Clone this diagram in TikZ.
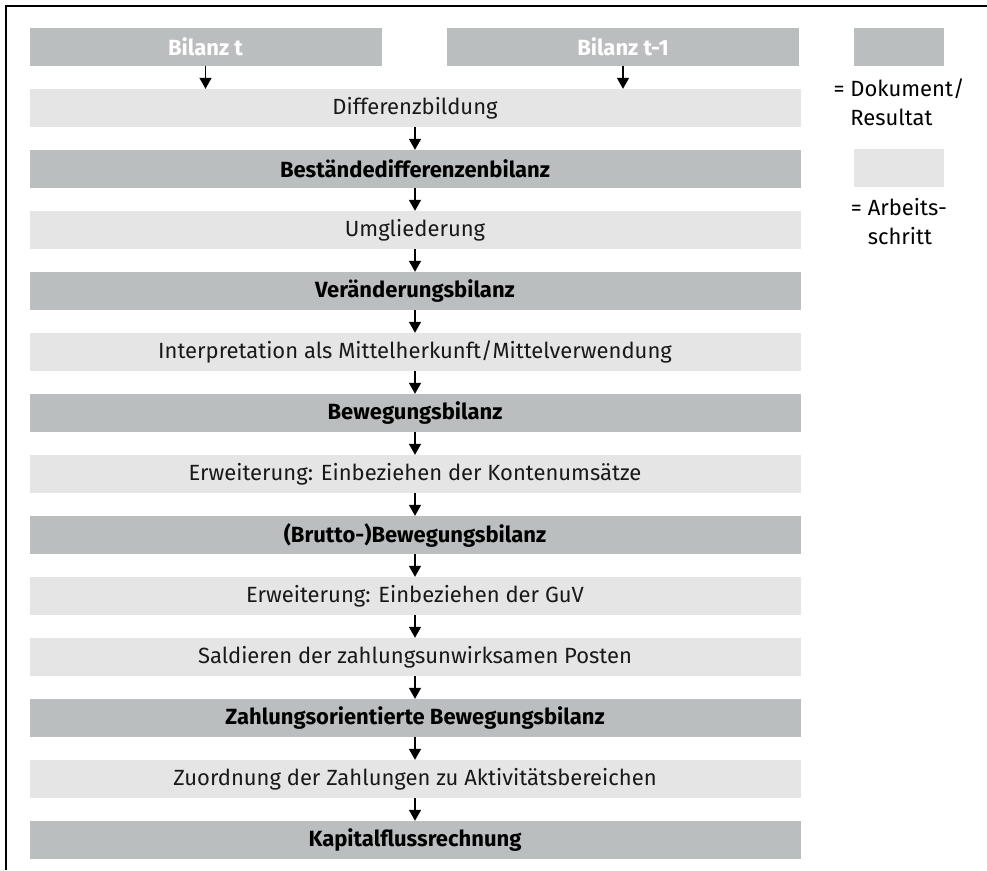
\documentclass[tikz,border=0pt]{standalone}
\usepackage{fontspec}
\setmainfont{Fira Sans}
\usetikzlibrary{%
	positioning,
	arrows.meta
}
\definecolor{dokgrau}{RGB}{187,190,191}
\definecolor{schrittgrau}{RGB}{229,229,229}

\begin{document}
\begin{tikzpicture}[
		x=1pt,y=-1pt,
		node distance=22.6pt,
		dok/.style={fill=dokgrau,minimum height=38pt,minimum width=771pt,inner sep=0pt,font=\fontsize{22}{26}\selectfont\bfseries},
		schritt/.style={fill=schrittgrau,minimum height=38pt,minimum width=771pt,inner sep=0pt,font=\fontsize{22}{26}\selectfont,text=black!90},
		quelle/.style={dok,minimum width=352pt,text=white},
		legende/.style={align=left,inner sep=0pt,font=\fontsize{22}{29}\selectfont},
		pfeil/.style={-{Triangle[width=12pt,length=11pt]},line width=1.4pt}
	]
	\useasboundingbox (0,0) rectangle (987,870);
	\draw[line width=1.6pt] (987,6) -- (6,6) -- (6,870);

		\node(bilanz-t) [quelle] at (205.5,46.5) {Bilanz t};
		\node(bilanz-t1) [quelle] at (623,46.5) {Bilanz t-1};
		
		\node(diff) [schritt] at (415,108) {Differenzbildung};
		\node(bestdiff) [dok, below=of diff] {Beständedifferenzenbilanz};
		\node(umgl) [schritt, below=of bestdiff] {Umgliederung};
		\node(veraend) [dok, below=of umgl] {Veränderungsbilanz};
		\node(interp) [schritt, below=of veraend] {Interpretation als Mittelherkunft/Mittelverwendung};
		\node(beweg) [dok, below=of interp] {Bewegungsbilanz};
		\node(erw-konten) [schritt, below=of beweg] {Erweiterung: Einbeziehen der Kontenumsätze};
		\node(brutto) [dok, below=of erw-konten] {(Brutto-)Bewegungsbilanz};
		\node(erw-guv) [schritt, below=of brutto] {Erweiterung: Einbeziehen der GuV};
		\node(saldo) [schritt, below=of erw-guv] {Saldieren der zahlungsunwirksamen Posten};
		\node(zahl-beweg) [dok, below=of saldo] {Zahlungsorientierte Bewegungsbilanz};
		\node(zuord) [schritt, below=of zahl-beweg] {Zuordnung der Zahlungen zu Aktivitätsbereichen};
		\node(kfr) [dok, below=of zuord] {Kapitalflussrechnung};
		
		\draw[pfeil] (bilanz-t) -- (bilanz-t |- diff.north);
		\draw[pfeil] (bilanz-t1) -- (bilanz-t1 |- diff.north);
		\draw[pfeil] (diff) -- (bestdiff);
		\draw[pfeil] (bestdiff) -- (umgl);
		\draw[pfeil] (umgl) -- (veraend);
		\draw[pfeil] (veraend) -- (interp);
		\draw[pfeil] (interp) -- (beweg);
		\draw[pfeil] (beweg) -- (erw-konten);
		\draw[pfeil] (erw-konten) -- (brutto);
		\draw[pfeil] (brutto) -- (erw-guv);
		\draw[pfeil] (erw-guv) -- (saldo);
		\draw[pfeil] (saldo) -- (zahl-beweg);
		\draw[pfeil] (zahl-beweg) -- (zuord);
		\draw[pfeil] (zuord) -- (kfr);
		
		% legend
		\node(leg-dok) [dok, minimum width=90pt] at (899,46.5) {};
		\node(leg-dok-text) [legende, below=13pt of leg-dok] {= Dokument/\\\phantom{= }Resultat};
		\node(leg-schritt) [schritt, minimum width=90pt] at (899,168) {};
		\node(leg-schritt-text) [legende, below=11pt of leg-schritt] {= Arbeits-\\\phantom{= }schritt};
		
	\end{tikzpicture}
\end{document}
